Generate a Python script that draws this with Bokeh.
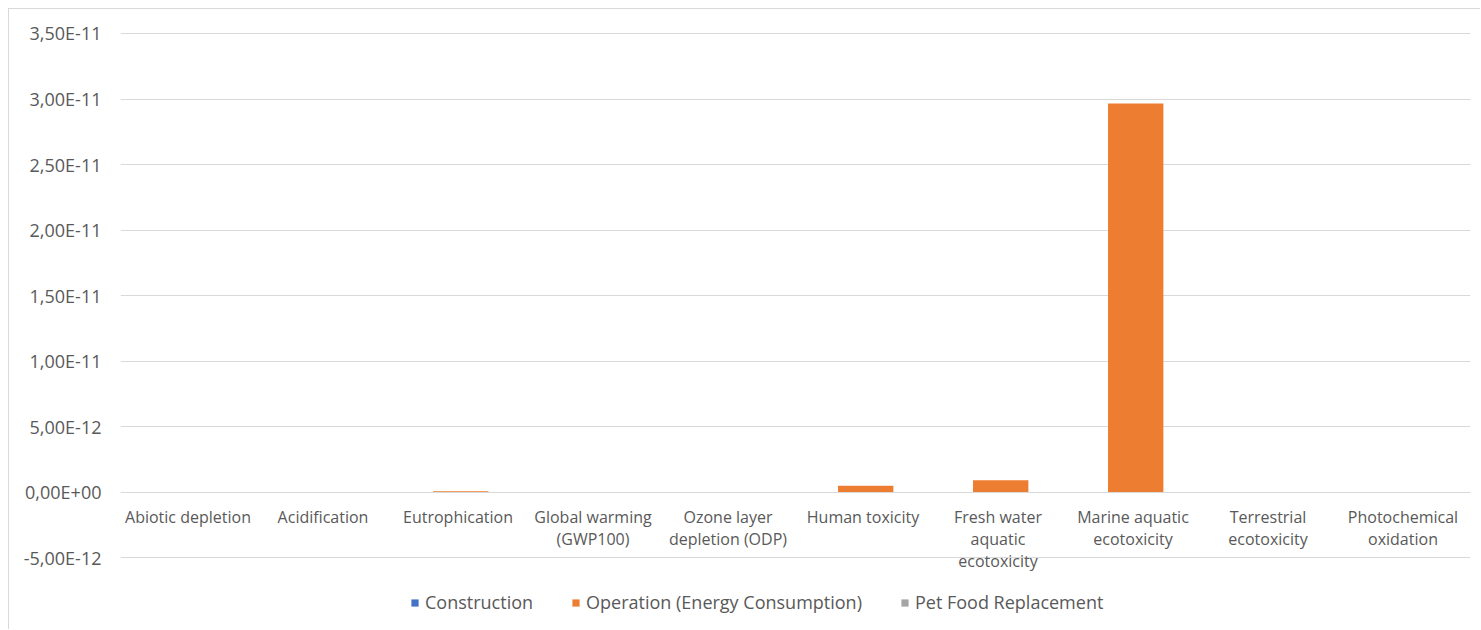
from bokeh.plotting import figure
from bokeh.models import (ColumnDataSource, Legend, LegendItem, FixedTicker,
                          Range1d, CustomJSTickFormatter)
from bokeh.transform import dodge
from bokeh.core.properties import value
from bokeh.embed import file_html
from bokeh.resources import INLINE

categories = ["Abiotic depletion", "Acidification", "Eutrophication",
              "Global warming (GWP100)", "Ozone layer depletion (ODP)",
              "Human toxicity", "Fresh water aquatic ecotoxicity",
              "Marine aquatic ecotoxicity", "Terrestrial ecotoxicity",
              "Photochemical oxidation"]
category_labels = ["Abiotic depletion", "Acidification", "Eutrophication",
                   "Global warming\n(GWP100)", "Ozone layer\ndepletion (ODP)",
                   "Human toxicity", "Fresh water\naquatic\necotoxicity",
                   "Marine aquatic\necotoxicity", "Terrestrial\necotoxicity",
                   "Photochemical\noxidation"]
construction = [0.0, 0.0, 0.0, 0.0, 0.0, 0.0, 0.0, 0.0, 0.0, 0.0]
operation = [1.0e-15, 2.0e-15, 6.0e-14, 3.0e-15, 1.0e-17,
             4.7e-13, 8.9e-13, 2.965e-11, 1.0e-14, 1.0e-15]
pet_food = [0.0, 0.0, 0.0, 0.0, 0.0, 0.0, 0.0, 0.0, 0.0, 0.0]
series_names = ["Construction", "Operation (Energy Consumption)", "Pet Food Replacement"]
y_ticks = [-5e-12, 0.0, 5e-12, 1e-11, 1.5e-11, 2e-11, 2.5e-11, 3e-11, 3.5e-11]
y_tick_labels = ["-5,00E-12", "0,00E+00", "5,00E-12", "1,00E-11", "1,50E-11",
                 "2,00E-11", "2,50E-11", "3,00E-11", "3,50E-11"]

FONT = "Open Sans"
TXT = "#595959"

source = ColumnDataSource(dict(
    cat=categories, label=category_labels,
    construction=construction, operation=operation, pet_food=pet_food,
    base=[0.0] * len(categories),
))

p = figure(x_range=categories, y_range=Range1d(-1.0188e-11, 3.5992e-11),
           width=1472, height=621, output_backend="svg", toolbar_location=None,
           min_border_left=111, min_border_right=11, min_border_top=11,
           min_border_bottom=5)
p.margin = (8, 0, 0, 8)
p.styles = {"border-left": "1px solid #d9d9d9", "border-top": "1px solid #d9d9d9"}
p.outline_line_color = None
p.background_fill_color = "white"
p.border_fill_color = "white"

r1 = p.vbar(x=dodge("cat", -0.3, range=p.x_range), top="construction", width=0.4,
            source=source, fill_color="#4472C4", line_color=None)
r2 = p.vbar(x=dodge("cat", 0.02, range=p.x_range), top="operation", width=0.41,
            source=source, fill_color="#ED7D31", line_color=None)
r3 = p.vbar(x=dodge("cat", 0.3, range=p.x_range), top="pet_food", width=0.4,
            source=source, fill_color="#A5A5A5", line_color=None)

p.text(x="cat", y="base", text="label", source=source, text_align="center",
       text_baseline="top", y_offset=14, text_font=value(FONT),
       text_font_size="16px", text_color=TXT, text_line_height=1.0)

p.xaxis.visible = False
p.xgrid.grid_line_color = None
p.yaxis.ticker = FixedTicker(ticks=y_ticks)
p.yaxis.formatter = CustomJSTickFormatter(
    args=dict(tvals=y_ticks, tlabels=y_tick_labels),
    code="""
let best = 0; let bd = Infinity;
for (let i = 0; i < tvals.length; i++) {
  const d = Math.abs(tvals[i] - tick);
  if (d < bd) { bd = d; best = i; }
}
return tlabels[best];
""")
p.yaxis.axis_line_color = None
p.yaxis.major_tick_line_color = None
p.yaxis.minor_tick_line_color = None
p.yaxis.major_label_standoff = 13
p.yaxis.major_label_text_font = FONT
p.yaxis.major_label_text_font_size = "18px"
p.yaxis.major_label_text_color = TXT
p.ygrid.grid_line_color = "#d9d9d9"
p.ygrid.grid_line_width = 1

legend = Legend(items=[LegendItem(label=series_names[0], renderers=[r1]),
                       LegendItem(label=series_names[1], renderers=[r2]),
                       LegendItem(label=series_names[2], renderers=[r3])],
                orientation="horizontal", location=(290, 11),
                glyph_width=9, glyph_height=9, label_standoff=6, spacing=38,
                padding=0, margin=0, border_line_color=None,
                background_fill_alpha=0, label_text_font=FONT,
                label_text_font_size="18px", label_text_color=TXT)
p.add_layout(legend)

open("out.html", "w").write(file_html(p, INLINE))
